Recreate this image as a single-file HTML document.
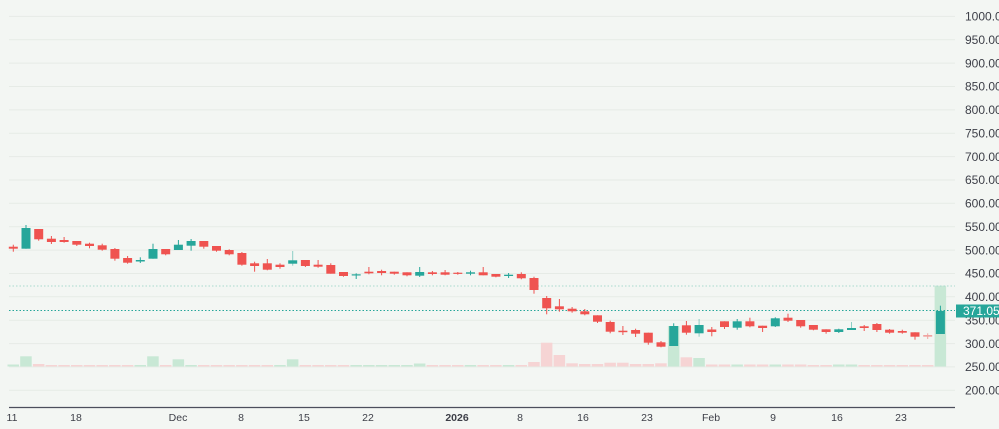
<!DOCTYPE html>
<html><head><meta charset="utf-8"><style>
html,body{margin:0;padding:0;background:#f3f6f3;overflow:hidden;}
svg{display:block;}
text{font-family:"Liberation Sans",sans-serif;}
</style></head><body>
<svg width="999" height="429" viewBox="0 0 999 429" xmlns="http://www.w3.org/2000/svg">
<rect width="999" height="429" fill="#f3f6f3"/>
<g stroke="#e6ebe6" stroke-width="1">
<line x1="9" x2="955" y1="16.4" y2="16.4"/><line x1="9" x2="955" y1="39.8" y2="39.8"/><line x1="9" x2="955" y1="63.1" y2="63.1"/><line x1="9" x2="955" y1="86.5" y2="86.5"/><line x1="9" x2="955" y1="109.9" y2="109.9"/><line x1="9" x2="955" y1="133.2" y2="133.2"/><line x1="9" x2="955" y1="156.6" y2="156.6"/><line x1="9" x2="955" y1="180" y2="180"/><line x1="9" x2="955" y1="203.3" y2="203.3"/><line x1="9" x2="955" y1="226.7" y2="226.7"/><line x1="9" x2="955" y1="250.1" y2="250.1"/><line x1="9" x2="955" y1="273.5" y2="273.5"/><line x1="9" x2="955" y1="296.8" y2="296.8"/><line x1="9" x2="955" y1="320.2" y2="320.2"/><line x1="9" x2="955" y1="343.6" y2="343.6"/><line x1="9" x2="955" y1="366.9" y2="366.9"/><line x1="9" x2="955" y1="390.3" y2="390.3"/>
</g>
<g fill="#f6d4d4">
<rect x="32.9" y="364" width="11.5" height="2.5"/><rect x="45.6" y="365" width="11.5" height="1.5"/><rect x="58.3" y="365" width="11.5" height="1.5"/><rect x="71" y="365" width="11.5" height="1.5"/><rect x="83.7" y="365" width="11.5" height="1.5"/><rect x="96.4" y="365" width="11.5" height="1.5"/><rect x="109.1" y="365" width="11.5" height="1.5"/><rect x="121.8" y="365" width="11.5" height="1.5"/><rect x="159.9" y="365" width="11.5" height="1.5"/><rect x="198" y="365" width="11.5" height="1.5"/><rect x="210.7" y="365" width="11.5" height="1.5"/><rect x="223.4" y="365" width="11.5" height="1.5"/><rect x="236.1" y="365" width="11.5" height="1.5"/><rect x="248.8" y="365" width="11.5" height="1.5"/><rect x="261.5" y="365" width="11.5" height="1.5"/><rect x="299.6" y="365" width="11.5" height="1.5"/><rect x="312.3" y="365" width="11.5" height="1.5"/><rect x="325" y="365" width="11.5" height="1.5"/><rect x="337.7" y="365" width="11.5" height="1.5"/><rect x="426.6" y="365" width="11.5" height="1.5"/><rect x="439.3" y="365" width="11.5" height="1.5"/><rect x="452" y="365" width="11.5" height="1.5"/><rect x="477.4" y="365" width="11.5" height="1.5"/><rect x="490.1" y="365" width="11.5" height="1.5"/><rect x="515.5" y="365" width="11.5" height="1.5"/>
<rect x="528.2" y="362" width="11.5" height="4.5"/><rect x="540.9" y="342.7" width="11.5" height="23.8"/><rect x="553.6" y="355" width="11.5" height="11.5"/><rect x="566.3" y="363.3" width="11.5" height="3.2"/><rect x="579" y="364" width="11.5" height="2.5"/><rect x="591.7" y="364" width="11.5" height="2.5"/><rect x="604.4" y="362.7" width="11.5" height="3.8"/><rect x="617.1" y="362.7" width="11.5" height="3.8"/><rect x="629.8" y="364" width="11.5" height="2.5"/><rect x="642.5" y="364" width="11.5" height="2.5"/><rect x="655.2" y="363.3" width="11.5" height="3.2"/><rect x="680.6" y="357.3" width="11.5" height="9.2"/>
<rect x="706" y="364.5" width="11.5" height="2"/><rect x="718.7" y="364.5" width="11.5" height="2"/><rect x="744.1" y="364.5" width="11.5" height="2"/><rect x="756.8" y="364.5" width="11.5" height="2"/><rect x="782.2" y="364.5" width="11.5" height="2"/><rect x="794.9" y="364.5" width="11.5" height="2"/><rect x="807.6" y="365" width="11.5" height="1.5"/><rect x="820.3" y="365" width="11.5" height="1.5"/><rect x="858.4" y="365" width="11.5" height="1.5"/><rect x="871.1" y="365" width="11.5" height="1.5"/><rect x="883.8" y="365" width="11.5" height="1.5"/><rect x="896.5" y="365" width="11.5" height="1.5"/><rect x="909.2" y="365" width="11.5" height="1.5"/><rect x="921.9" y="365" width="11.5" height="1.5"/>
</g>
<g fill="#c8e8d5">
<rect x="7.5" y="364.5" width="11.5" height="2"/><rect x="20.2" y="356.3" width="11.5" height="10.2"/><rect x="134.5" y="365" width="11.5" height="1.5"/><rect x="147.2" y="356.3" width="11.5" height="10.2"/><rect x="172.6" y="359.3" width="11.5" height="7.2"/><rect x="185.3" y="365" width="11.5" height="1.5"/><rect x="274.2" y="365" width="11.5" height="1.5"/><rect x="286.9" y="359.3" width="11.5" height="7.2"/><rect x="350.4" y="365" width="11.5" height="1.5"/><rect x="363.1" y="365" width="11.5" height="1.5"/><rect x="375.8" y="365" width="11.5" height="1.5"/><rect x="388.5" y="365" width="11.5" height="1.5"/><rect x="401.2" y="365" width="11.5" height="1.5"/><rect x="413.9" y="363.5" width="11.5" height="3"/><rect x="464.7" y="365" width="11.5" height="1.5"/><rect x="502.8" y="365" width="11.5" height="1.5"/>
<rect x="667.9" y="326" width="11.5" height="40.5"/><rect x="693.3" y="358" width="11.5" height="8.5"/><rect x="731.4" y="364.5" width="11.5" height="2"/><rect x="769.5" y="364.5" width="11.5" height="2"/><rect x="833" y="364.5" width="11.5" height="2"/><rect x="845.7" y="364.5" width="11.5" height="2"/><rect x="934.6" y="285.7" width="11.5" height="80.8"/>
</g>
<line x1="9" x2="955" y1="286" y2="286" stroke="#a9d9cd" stroke-width="1" stroke-dasharray="1.5 2"/>
<line x1="9" x2="955" y1="310.5" y2="310.5" stroke="#26a69a" stroke-width="1" stroke-dasharray="1.5 2"/>
<g fill="#ef5350">
<rect x="12.8" y="244.7" width="1" height="7"/><rect x="8.8" y="246.7" width="9" height="2"/>
<rect x="38.2" y="229" width="1" height="11.7"/><rect x="34.2" y="229" width="9" height="10.3"/>
<rect x="50.9" y="236" width="1" height="8"/><rect x="46.9" y="238.7" width="9" height="3.3"/>
<rect x="63.6" y="237" width="1" height="5.7"/><rect x="59.6" y="240" width="9" height="2"/>
<rect x="76.3" y="241" width="1" height="5"/><rect x="72.3" y="241" width="9" height="3.7"/>
<rect x="89" y="242.7" width="1" height="5.6"/><rect x="85" y="243.7" width="9" height="2.3"/>
<rect x="101.7" y="243.7" width="1" height="7"/><rect x="97.7" y="245.3" width="9" height="4.4"/>
<rect x="114.4" y="248" width="1" height="12.7"/><rect x="110.4" y="249" width="9" height="9.7"/>
<rect x="127.1" y="256" width="1" height="7.7"/><rect x="123.1" y="258" width="9" height="4.7"/>
<rect x="165.2" y="249" width="1" height="6.3"/><rect x="161.2" y="249" width="9" height="5.3"/>
<rect x="203.3" y="241" width="1" height="7.7"/><rect x="199.3" y="241" width="9" height="5.7"/>
<rect x="216" y="246" width="1" height="5.7"/><rect x="212" y="246" width="9" height="4.7"/>
<rect x="228.7" y="249.3" width="1" height="6"/><rect x="224.7" y="250" width="9" height="4.3"/>
<rect x="241.4" y="252" width="1" height="13.7"/><rect x="237.4" y="253" width="9" height="11.7"/>
<rect x="254.1" y="261.7" width="1" height="10"/><rect x="250.1" y="263.3" width="9" height="2.7"/>
<rect x="266.8" y="259" width="1" height="11.3"/><rect x="262.8" y="263.3" width="9" height="6.4"/>
<rect x="279.5" y="263.3" width="1" height="5.4"/><rect x="275.5" y="264.7" width="9" height="2.3"/>
<rect x="304.9" y="260" width="1" height="7"/><rect x="300.9" y="260" width="9" height="6"/>
<rect x="317.6" y="260" width="1" height="7.7"/><rect x="313.6" y="264.7" width="9" height="2"/>
<rect x="330.3" y="263.3" width="1" height="10.4"/><rect x="326.3" y="265" width="9" height="8.7"/>
<rect x="343" y="272" width="1" height="4.7"/><rect x="339" y="272" width="9" height="4"/>
<rect x="368.4" y="267" width="1" height="7.3"/><rect x="364.4" y="271.7" width="9" height="1.6"/>
<rect x="381.1" y="269.7" width="1" height="5.6"/><rect x="377.1" y="271" width="9" height="2"/>
<rect x="393.8" y="271.7" width="1" height="3"/><rect x="389.8" y="271.7" width="9" height="2"/>
<rect x="406.5" y="272.3" width="1" height="4"/><rect x="402.5" y="272.3" width="9" height="3"/>
<rect x="431.9" y="271" width="1" height="4.3"/><rect x="427.9" y="272.3" width="9" height="1.7"/>
<rect x="444.6" y="270" width="1" height="5.3"/><rect x="440.6" y="272.3" width="9" height="2.4"/>
<rect x="457.3" y="272" width="1" height="2.7"/><rect x="453.3" y="272.7" width="9" height="1.2"/>
<rect x="482.7" y="267" width="1" height="8.3"/><rect x="478.7" y="272.3" width="9" height="3"/>
<rect x="495.4" y="274" width="1" height="3.3"/><rect x="491.4" y="274" width="9" height="2.7"/>
<rect x="520.8" y="272.3" width="1" height="7"/><rect x="516.8" y="274" width="9" height="4.3"/>
<rect x="533.5" y="276.7" width="1" height="17"/><rect x="529.5" y="278" width="9" height="12"/>
<rect x="546.2" y="296" width="1" height="18.3"/><rect x="542.2" y="298" width="9" height="10.3"/>
<rect x="558.9" y="299" width="1" height="12.7"/><rect x="554.9" y="306.3" width="9" height="3"/>
<rect x="571.6" y="307" width="1" height="5.7"/><rect x="567.6" y="308.7" width="9" height="2.6"/>
<rect x="584.3" y="309" width="1" height="6.3"/><rect x="580.3" y="311.3" width="9" height="3"/>
<rect x="597" y="315.3" width="1" height="7.7"/><rect x="593" y="315.3" width="9" height="6.4"/>
<rect x="609.7" y="320.7" width="1" height="12.6"/><rect x="605.7" y="322" width="9" height="9.7"/>
<rect x="622.4" y="326" width="1" height="9"/><rect x="618.4" y="330.7" width="9" height="1.5"/>
<rect x="635.1" y="328.7" width="1" height="8.3"/><rect x="631.1" y="330" width="9" height="3.7"/>
<rect x="647.8" y="332.7" width="1" height="12"/><rect x="643.8" y="332.7" width="9" height="10"/>
<rect x="660.5" y="341" width="1" height="6.3"/><rect x="656.5" y="342.3" width="9" height="4.4"/>
<rect x="685.9" y="321" width="1" height="13.7"/><rect x="681.9" y="325.3" width="9" height="7.4"/>
<rect x="711.3" y="327" width="1" height="9.3"/><rect x="707.3" y="329.5" width="9" height="2.5"/>
<rect x="724" y="321.3" width="1" height="7.7"/><rect x="720" y="321.3" width="9" height="5.7"/>
<rect x="749.4" y="317.7" width="1" height="9.6"/><rect x="745.4" y="321.3" width="9" height="5"/>
<rect x="762.1" y="325.7" width="1" height="6.3"/><rect x="758.1" y="325.7" width="9" height="2.3"/>
<rect x="787.5" y="313.7" width="1" height="8.3"/><rect x="783.5" y="317.7" width="9" height="3"/>
<rect x="800.2" y="320" width="1" height="7.7"/><rect x="796.2" y="320" width="9" height="6.3"/>
<rect x="812.9" y="325" width="1" height="5.3"/><rect x="808.9" y="325" width="9" height="4.7"/>
<rect x="825.6" y="329.3" width="1" height="4.4"/><rect x="821.6" y="329.3" width="9" height="2.7"/>
<rect x="863.7" y="325" width="1" height="6"/><rect x="859.7" y="326.3" width="9" height="1.7"/>
<rect x="876.4" y="323" width="1" height="9"/><rect x="872.4" y="324" width="9" height="6"/>
<rect x="889.1" y="329" width="1" height="4.7"/><rect x="885.1" y="329.7" width="9" height="3"/>
<rect x="901.8" y="329.7" width="1" height="4"/><rect x="897.8" y="331" width="9" height="1.7"/>
<rect x="914.5" y="332.3" width="1" height="7.4"/><rect x="910.5" y="332.3" width="9" height="4.4"/>
</g>
<g fill="#ef5350" opacity="0.5">
<rect x="927.2" y="333.3" width="1" height="5.7"/><rect x="923.2" y="335" width="9" height="1.7"/>
</g>
<g fill="#26a69a">
<rect x="25.5" y="225" width="1" height="23.7"/><rect x="21.5" y="228" width="9" height="20.7"/>
<rect x="139.8" y="257.3" width="1" height="5.7"/><rect x="135.8" y="260" width="9" height="1.5"/>
<rect x="152.5" y="243.7" width="1" height="15"/><rect x="148.5" y="249" width="9" height="9.7"/>
<rect x="177.9" y="240" width="1" height="10"/><rect x="173.9" y="244.7" width="9" height="5.3"/>
<rect x="190.6" y="239" width="1" height="11.7"/><rect x="186.6" y="241" width="9" height="4.7"/>
<rect x="292.2" y="251" width="1" height="14.7" opacity="0.5"/><rect x="288.2" y="260.3" width="9" height="3.4"/>
<rect x="355.7" y="273.3" width="1" height="5.7"/><rect x="351.7" y="274.3" width="9" height="1.2"/>
<rect x="419.2" y="267" width="1" height="10"/><rect x="415.2" y="272" width="9" height="3.7"/>
<rect x="470" y="270.7" width="1" height="4.6"/><rect x="466" y="272.3" width="9" height="1.4"/>
<rect x="508.1" y="273" width="1" height="5"/><rect x="504.1" y="274.7" width="9" height="1.3"/>
<rect x="673.2" y="323.3" width="1" height="22.7"/><rect x="669.2" y="326" width="9" height="20"/>
<rect x="698.6" y="319" width="1" height="17.7" opacity="0.5"/><rect x="694.6" y="325" width="9" height="8.3"/>
<rect x="736.7" y="319" width="1" height="10.7"/><rect x="732.7" y="321.3" width="9" height="6.4"/>
<rect x="774.8" y="317.3" width="1" height="9.7"/><rect x="770.8" y="318.3" width="9" height="8"/>
<rect x="838.3" y="328.7" width="1" height="4.3"/><rect x="834.3" y="329.3" width="9" height="2.7"/>
<rect x="851" y="322" width="1" height="8" opacity="0.5"/><rect x="847" y="328" width="9" height="2"/>
<rect x="939.9" y="305.7" width="1" height="28.3"/><rect x="935.9" y="311" width="9" height="23"/>
</g>
<line x1="9" x2="955" y1="407.5" y2="407.5" stroke="#4c4e5c" stroke-width="1.2"/>
<g font-size="10.5" fill="#3d3f48" text-anchor="middle">
<text x="12" y="421">11</text><text x="76" y="421">18</text><text x="178" y="421">Dec</text><text x="241" y="421">8</text><text x="304" y="421">15</text><text x="368" y="421">22</text><text x="457" y="421" font-weight="bold">2026</text><text x="520" y="421">8</text><text x="583" y="421">16</text><text x="647" y="421">23</text><text x="711" y="421">Feb</text><text x="773" y="421">9</text><text x="837" y="421">16</text><text x="901" y="421">23</text>
</g>
<g font-size="12" fill="#3d3f48">
<text x="965" y="20.6">1000.00</text><text x="965" y="44">950.00</text><text x="965" y="67.3">900.00</text><text x="965" y="90.7">850.00</text><text x="965" y="114.1">800.00</text><text x="965" y="137.4">750.00</text><text x="965" y="160.8">700.00</text><text x="965" y="184.2">650.00</text><text x="965" y="207.5">600.00</text><text x="965" y="230.9">550.00</text><text x="965" y="254.3">500.00</text><text x="965" y="277.7">450.00</text><text x="965" y="301">400.00</text><text x="965" y="324.4">350.00</text><text x="965" y="347.8">300.00</text><text x="965" y="371.1">250.00</text><text x="965" y="394.5">200.00</text>
</g>
<rect x="956" y="304.5" width="43" height="13" fill="#26a69a"/>
<text x="963" y="315.2" font-size="12" fill="#ffffff">371.05</text>
</svg>
</body></html>
